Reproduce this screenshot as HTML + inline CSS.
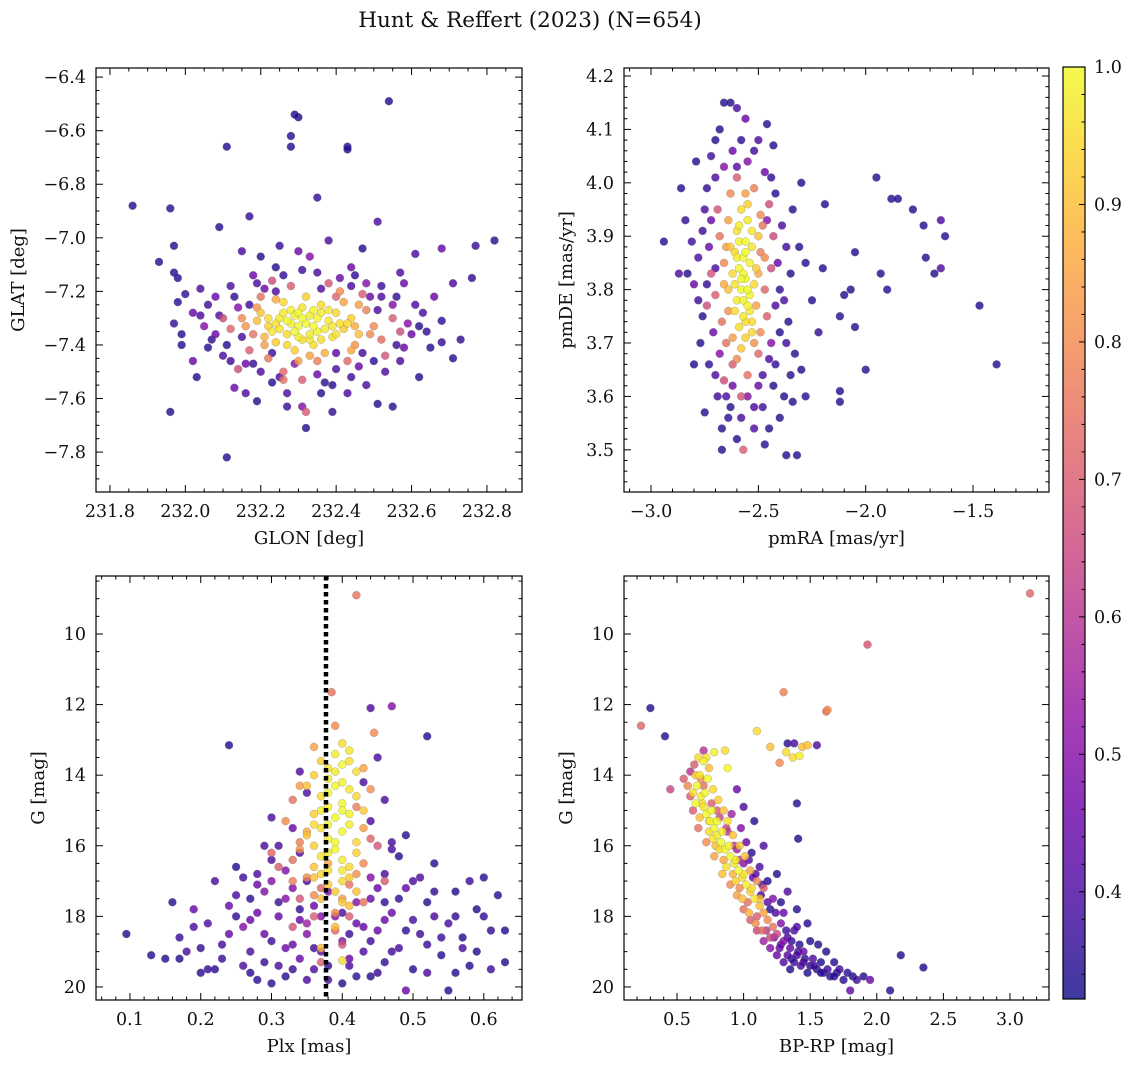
<!DOCTYPE html>
<html><head><meta charset="utf-8">
<style>
html,body{margin:0;padding:0;background:#fff;}
svg text{font-family:"DejaVu Serif","Liberation Serif",serif;fill:#111;}
</style></head>
<body>
<svg id="fig" width="1136" height="1067" viewBox="0 0 1136 1067" xmlns="http://www.w3.org/2000/svg">
<text x="530" y="27" font-size="21.5" text-anchor="middle">Hunt &amp; Reffert (2023) (N=654)</text>
</svg>
<script>
// ---------- data (estimated from reference) ----------
const p1 = [ // GLON, GLAT, prob
[232.54,-6.49,.35],[232.29,-6.54,.35],[232.30,-6.55,.34],[232.28,-6.62,.35],[232.28,-6.66,.35],[232.43,-6.66,.34],[232.43,-6.67,.35],[232.11,-6.66,.35],[231.86,-6.88,.35],[231.96,-6.89,.35],[232.35,-6.85,.37],[232.17,-6.92,.37],[232.51,-6.94,.4],[232.09,-6.96,.35],[231.97,-7.03,.35],[232.82,-7.01,.35],[232.77,-7.03,.37],[232.68,-7.04,.45],[232.47,-7.04,.35],[232.61,-7.06,.4],[231.93,-7.09,.35],[231.97,-7.13,.35],[231.98,-7.15,.35],[232.58,-7.17,.45],[232.71,-7.17,.4],[232.76,-7.15,.37],[232.15,-7.05,.4],[232.20,-7.07,.35],[232.25,-7.03,.37],[232.30,-7.05,.45],[232.38,-7.01,.4],[232.33,-7.07,.5],[232.44,-7.11,.45],[232.57,-7.13,.4],[232.04,-7.19,.4],[232.08,-7.22,.45],[231.98,-7.24,.35],[232.02,-7.28,.45],[232.04,-7.29,.4],[231.97,-7.32,.37],[231.99,-7.36,.35],[232.05,-7.33,.5],[231.99,-7.40,.35],[232.02,-7.46,.45],[232.10,-7.44,.4],[232.11,-7.40,.35],[232.03,-7.52,.35],[231.96,-7.65,.35],[232.11,-7.82,.35],[232.13,-7.56,.45],[232.16,-7.58,.4],[232.23,-7.54,.35],[232.19,-7.61,.35],[232.27,-7.63,.37],[232.32,-7.71,.35],[232.31,-7.63,.5],[232.36,-7.58,.35],[232.43,-7.58,.4],[232.51,-7.62,.35],[232.55,-7.63,.35],[232.48,-7.55,.4],[232.62,-7.52,.35],[232.71,-7.45,.35],[232.68,-7.39,.37],[232.65,-7.41,.35],[232.57,-7.46,.4],[232.60,-7.36,.45],[232.63,-7.28,.4],[232.59,-7.32,.5],[232.66,-7.22,.45],[232.55,-7.25,.5],[232.52,-7.22,.4],[232.49,-7.22,.45],
[232.12,-7.18,.4],[232.18,-7.14,.45],[232.24,-7.11,.35],[232.35,-7.13,.4],[232.41,-7.15,.45],[232.48,-7.17,.5],[232.08,-7.36,.45],[232.14,-7.26,.5],[232.06,-7.41,.35],[232.16,-7.47,.45],[232.20,-7.50,.4],[232.29,-7.47,.5],[232.35,-7.51,.45],[232.40,-7.49,.4],[232.46,-7.48,.45],[232.53,-7.50,.4],[232.58,-7.41,.45],[232.62,-7.33,.35],[232.27,-7.58,.4],[232.39,-7.55,.35],[232.44,-7.18,.4],[232.21,-7.19,.45],[232.09,-7.29,.4],
[232.06,-7.25,.38],[232.13,-7.22,.36],[232.19,-7.17,.4],[232.26,-7.14,.36],[232.31,-7.12,.38],[232.45,-7.14,.36],[232.52,-7.18,.38],[232.56,-7.22,.36],[232.61,-7.25,.4],[232.64,-7.35,.36],[232.56,-7.40,.38],[232.50,-7.46,.36],[232.44,-7.52,.38],[232.37,-7.54,.36],[232.25,-7.52,.4],[232.18,-7.47,.36],[232.12,-7.46,.38],[232.07,-7.38,.36],[232.15,-7.37,.4],[232.23,-7.43,.38],[232.47,-7.43,.38],[232.51,-7.27,.4],[232.17,-7.25,.38],[232.36,-7.19,.4],[232.40,-7.43,.42],[232.24,-7.20,.4],[232.00,-7.21,.36],[232.68,-7.31,.36],[232.73,-7.38,.36],[232.39,-7.65,.36],
[232.15,-7.30,.8],[232.18,-7.36,.75],[232.48,-7.27,.78],[232.50,-7.33,.8],[232.45,-7.40,.82],[232.22,-7.45,.76],[232.40,-7.22,.72],[232.28,-7.18,.7],[232.12,-7.34,.72],[232.55,-7.30,.7],[232.35,-7.46,.78],[232.20,-7.22,.75],[232.47,-7.21,.7],[232.52,-7.38,.74],[232.17,-7.42,.7],[232.43,-7.46,.73],[232.26,-7.50,.72],[232.38,-7.17,.68],[232.10,-7.30,.65],[232.57,-7.35,.66],[232.31,-7.53,.7],[232.14,-7.49,.66],[232.53,-7.44,.68],[232.23,-7.16,.66],[232.33,-7.44,.85],[232.42,-7.24,.85],[232.21,-7.40,.84],[232.45,-7.33,.87],[232.32,-7.65,.7],[232.26,-7.53,.75],
[232.19,-7.26,.82],[232.24,-7.23,.86],[232.46,-7.25,.84],[232.49,-7.36,.8],[232.44,-7.42,.86],[232.30,-7.46,.84],[232.21,-7.37,.88],[232.16,-7.33,.82],[232.37,-7.43,.88],[232.41,-7.20,.8],
[232.25,-7.30,.97],[232.28,-7.27,.99],[232.30,-7.33,1],[232.33,-7.29,.98],[232.35,-7.35,.99],[232.38,-7.31,.97],[232.31,-7.38,.96],[232.27,-7.36,.95],[232.22,-7.33,.93],[232.36,-7.25,.95],[232.40,-7.28,.94],[232.42,-7.34,.92],[232.34,-7.40,.95],[232.29,-7.42,.93],[232.24,-7.39,.92],[232.20,-7.28,.91],[232.26,-7.24,.94],[232.32,-7.22,.93],[232.39,-7.37,.96],[232.44,-7.30,.93],[232.23,-7.35,.97],[232.30,-7.28,1],[232.32,-7.32,1],[232.35,-7.30,.99],[232.28,-7.32,.99],[232.37,-7.34,.98],[232.33,-7.36,.98],[232.26,-7.28,.97],[232.31,-7.26,.96],[232.29,-7.35,1],[232.36,-7.38,.95],[232.41,-7.32,.95],[232.19,-7.31,.9],[232.46,-7.36,.9],[232.34,-7.27,.99],[232.27,-7.40,.94],[232.38,-7.27,.97],[232.24,-7.32,.96],[232.40,-7.36,.96],[232.30,-7.37,.98],
[232.27,-7.31,1],[232.34,-7.33,1],[232.31,-7.30,1],[232.29,-7.29,.99],[232.36,-7.28,.98],[232.25,-7.34,.96],[232.39,-7.33,.97],[232.33,-7.38,.97],[232.22,-7.30,.95],[232.43,-7.32,.94]
];
const p2 = [ // pmRA, pmDE, prob
[-1.95,4.01,.35],[-1.88,3.97,.35],[-1.85,3.97,.35],[-1.78,3.95,.35],[-1.73,3.92,.35],[-1.65,3.93,.4],[-1.63,3.90,.35],[-1.65,3.84,.4],[-1.68,3.83,.35],[-1.72,3.86,.35],[-1.47,3.77,.35],[-1.39,3.66,.35],[-1.93,3.83,.35],[-1.90,3.80,.35],[-2.05,3.87,.35],[-2.07,3.80,.35],[-2.10,3.79,.35],[-2.12,3.75,.35],[-2.05,3.73,.35],[-2.00,3.65,.35],[-2.12,3.61,.35],[-2.12,3.59,.35],[-2.20,3.84,.35],[-2.25,3.78,.35],[-2.22,3.72,.37],[-2.19,3.96,.35],[-2.28,3.60,.35],
[-2.66,4.15,.35],[-2.63,4.15,.35],[-2.60,4.14,.4],[-2.56,4.12,.45],[-2.46,4.11,.35],[-2.68,4.10,.35],[-2.70,4.08,.35],[-2.50,4.08,.4],[-2.43,4.07,.35],[-2.79,4.04,.35],[-2.86,3.99,.35],[-2.94,3.89,.35],[-2.83,3.83,.35],[-2.87,3.83,.4],[-2.80,3.81,.45],[-2.77,3.70,.35],[-2.80,3.66,.35],[-2.75,3.57,.35],[-2.67,3.54,.35],[-2.67,3.50,.35],[-2.57,3.50,.7],[-2.47,3.51,.35],[-2.45,3.54,.35],[-2.40,3.56,.35],[-2.37,3.49,.35],[-2.32,3.49,.35],[-2.34,3.59,.35],[-2.38,3.60,.35],[-2.30,3.65,.35],[-2.52,3.58,.4],[-2.62,3.62,.45],[-2.55,3.60,.5],
[-2.75,3.95,.4],[-2.73,3.88,.45],[-2.78,3.86,.4],[-2.71,3.72,.45],[-2.76,3.75,.35],[-2.70,3.64,.4],[-2.63,3.58,.35],[-2.58,3.56,.4],[-2.50,3.62,.45],[-2.45,3.67,.4],[-2.40,3.72,.35],[-2.38,3.78,.4],[-2.41,3.85,.45],[-2.39,3.92,.4],[-2.42,3.98,.35],[-2.47,4.02,.45],[-2.55,4.04,.5],[-2.62,4.06,.45],[-2.70,4.01,.4],[-2.66,4.03,.5],[-2.35,3.83,.35],[-2.36,3.74,.35],[-2.33,3.68,.35],[-2.60,3.52,.35],[-2.52,3.54,.4],[-2.43,3.62,.35],[-2.31,3.88,.35],[-2.28,3.85,.35],[-2.34,3.95,.35],[-2.30,4.00,.35],[-2.72,3.93,.45],[-2.68,3.68,.5],[-2.44,3.70,.5],[-2.46,3.93,.5],
[-2.84,3.93,.36],[-2.76,3.91,.38],[-2.74,3.81,.36],[-2.78,3.78,.38],[-2.73,3.66,.36],[-2.69,3.60,.38],[-2.64,3.56,.36],[-2.48,3.58,.38],[-2.42,3.66,.36],[-2.37,3.70,.38],[-2.40,3.80,.36],[-2.37,3.88,.38],[-2.44,4.01,.36],[-2.52,4.06,.38],[-2.58,4.08,.36],[-2.72,4.05,.38],[-2.74,3.99,.36],[-2.81,3.89,.38],[-2.35,3.64,.36],[-2.48,3.64,.4],[-2.70,3.84,.4],[-2.42,3.77,.4],[-2.65,3.60,.4],[-2.60,4.03,.42],
[-2.68,3.90,.75],[-2.66,3.85,.8],[-2.70,3.79,.7],[-2.67,3.74,.75],[-2.49,3.87,.78],[-2.47,3.80,.72],[-2.46,3.75,.7],[-2.48,3.92,.75],[-2.63,3.98,.8],[-2.52,3.99,.78],[-2.72,3.83,.68],[-2.65,3.70,.75],[-2.50,3.68,.72],[-2.62,3.66,.7],[-2.55,3.64,.75],[-2.44,3.84,.66],[-2.69,3.95,.68],[-2.45,3.96,.66],[-2.60,4.01,.7],[-2.58,3.60,.68],[-2.66,3.63,.66],[-2.49,3.72,.8],[-2.74,3.77,.66],[-2.43,3.90,.65],[-2.64,3.93,.85],[-2.51,3.77,.85],
[-2.65,3.88,.84],[-2.64,3.76,.82],[-2.50,3.83,.86],[-2.49,3.94,.8],[-2.62,3.71,.84],[-2.52,3.70,.82],[-2.66,3.81,.86],[-2.47,3.86,.8],[-2.56,3.98,.84],[-2.60,3.67,.8],
[-2.58,3.95,.95],[-2.55,3.93,.97],[-2.60,3.91,.96],[-2.56,3.89,1],[-2.53,3.88,.97],[-2.61,3.87,.95],[-2.57,3.86,1],[-2.54,3.85,.99],[-2.59,3.84,1],[-2.62,3.83,.95],[-2.56,3.82,1],[-2.52,3.81,.95],[-2.58,3.80,1],[-2.60,3.78,.98],[-2.55,3.77,.99],[-2.57,3.75,.97],[-2.53,3.74,.95],[-2.59,3.73,.96],[-2.56,3.71,.93],[-2.58,3.69,.92],[-2.63,3.88,.92],[-2.51,3.84,.92],[-2.54,3.79,1],[-2.61,3.76,.95],[-2.50,3.90,.9],[-2.64,3.80,.9],[-2.55,3.96,.93],[-2.59,3.92,.98],[-2.57,3.83,1],[-2.53,3.72,.94],
[-2.56,3.87,1],[-2.58,3.82,1],[-2.55,3.80,1],[-2.60,3.86,.98],[-2.53,3.91,.97],[-2.57,3.78,.99],[-2.61,3.81,.96],[-2.54,3.76,.97],[-2.59,3.89,.99],[-2.56,3.74,.95]
];
const p3 = [ // Plx, G, prob
[0.095,18.5,.35],[0.13,19.1,.35],[0.16,17.6,.35],[0.17,18.6,.37],[0.17,19.2,.35],[0.19,18.3,.4],[0.20,19.6,.35],[0.21,19.5,.37],[0.19,17.8,.45],[0.22,19.5,.35],[0.23,18.8,.4],[0.24,17.7,.45],[0.25,16.6,.35],[0.25,17.4,.4],[0.26,18.3,.5],[0.27,19.0,.4],[0.27,19.6,.35],[0.28,17.9,.45],[0.29,19.3,.37],[0.29,18.5,.45],[0.30,16.4,.4],[0.30,17.0,.5],[0.31,19.4,.4],[0.31,18.0,.45],[0.32,17.5,.5],[0.32,19.7,.35],[0.33,18.8,.45],[0.34,16.2,.4],[0.34,19.2,.45],[0.35,18.5,.5],[0.36,19.5,.4],[0.37,18.0,.5],[0.37,19.0,.45],[0.38,19.8,.4],[0.40,18.7,.5],[0.41,19.4,.4],[0.42,18.2,.45],[0.43,19.0,.4],[0.44,17.5,.45],[0.44,19.7,.35],[0.45,18.4,.45],[0.46,16.8,.4],[0.46,19.3,.37],[0.47,17.9,.45],[0.48,18.9,.4],[0.48,16.3,.35],[0.49,15.7,.35],[0.49,17.2,.45],[0.50,18.1,.4],[0.50,19.5,.35],[0.51,16.9,.4],[0.52,17.6,.35],[0.52,18.8,.37],[0.53,16.5,.35],[0.54,19.1,.35],[0.55,18.2,.4],[0.55,20.1,.35],[0.56,17.3,.35],[0.57,18.6,.35],[0.58,19.4,.35],[0.59,17.8,.35],[0.60,16.9,.35],[0.61,18.4,.37],[0.62,17.4,.35],[0.63,18.4,.35],[0.63,19.3,.35],[0.59,19.0,.35],[0.57,18.9,.4],[0.49,20.1,.45],[0.45,19.6,.37],[0.40,19.9,.35],[0.35,19.8,.4],[0.26,19.4,.4],[0.28,17.1,.45],[0.33,17.2,.5],[0.36,17.7,.45],[0.42,17.6,.5],[0.45,17.2,.45],[0.47,16.1,.4],[0.28,16.8,.4],[0.31,16.0,.4],[0.22,17.0,.4],[0.21,18.2,.4],[0.18,19.0,.4],[0.24,18.5,.45],[0.34,18.1,.45],[0.38,17.3,.5],[0.43,18.3,.45],[0.50,17.0,.4],[0.53,18.0,.4],[0.56,19.6,.35],[0.15,19.2,.35],[0.27,18.1,.45],[0.32,18.9,.45],[0.41,19.2,.45],[0.46,18.1,.45],[0.52,19.6,.4],[0.29,16.0,.4],[0.33,15.5,.45],[0.35,14.5,.4],[0.30,15.2,.4],[0.44,15.3,.4],[0.46,14.7,.4],[0.43,14.2,.4],[0.34,13.9,.4],[0.45,13.5,.4],[0.47,15.9,.4],[0.24,13.15,.35],[0.44,12.1,.4],[0.47,12.05,.5],[0.52,12.9,.35],
[0.20,18.9,.36],[0.23,19.2,.38],[0.25,18.0,.36],[0.26,16.9,.38],[0.28,19.8,.36],[0.30,18.7,.38],[0.30,19.9,.36],[0.33,19.5,.38],[0.34,17.8,.36],[0.36,18.9,.38],[0.38,19.4,.36],[0.41,18.5,.38],[0.42,19.7,.36],[0.44,18.7,.38],[0.46,17.6,.36],[0.47,19.0,.38],[0.49,18.4,.36],[0.51,18.5,.38],[0.53,17.3,.36],[0.54,18.6,.38],[0.56,18.0,.36],[0.58,17.0,.38],[0.60,18.0,.36],[0.61,19.5,.38],[0.48,17.5,.36],[0.40,17.9,.4],[0.35,17.0,.4],[0.31,17.6,.38],[0.27,17.5,.36],[0.39,18.0,.5],[0.35,18.2,.55],[0.44,16.9,.5],[0.32,16.7,.5],[0.29,17.3,.5],
[0.33,14.7,.75],[0.32,15.3,.8],[0.34,15.9,.78],[0.33,16.4,.75],[0.35,16.9,.8],[0.37,17.2,.72],[0.41,17.1,.75],[0.43,16.5,.8],[0.44,15.8,.72],[0.42,14.9,.78],[0.36,18.0,.7],[0.39,18.4,.72],[0.41,18.0,.7],[0.34,17.5,.68],[0.31,16.6,.7],[0.45,16.0,.68],[0.40,18.8,.68],[0.37,19.3,.7],[0.445,12.8,.8],[0.39,12.6,.8],[0.385,11.65,.75],[0.42,8.9,.75],[0.36,13.2,.85],[0.43,13.8,.85],[0.30,16.2,.72],[0.46,17.0,.7],[0.38,16.5,.85],[0.33,18.3,.68],[0.43,17.6,.75],
[0.34,16.1,.82],[0.35,15.6,.86],[0.43,15.5,.84],[0.42,16.8,.82],[0.36,17.4,.8],[0.40,17.5,.84],[0.34,14.3,.84],[0.44,14.4,.82],[0.39,17.9,.8],[0.33,17.0,.78],
[0.40,13.1,.95],[0.41,13.3,.97],[0.37,13.6,.93],[0.40,13.7,1],[0.42,13.9,.95],[0.38,14.1,.98],[0.39,14.3,1],[0.41,14.4,.97],[0.37,14.6,.95],[0.40,14.8,1],[0.38,14.9,.99],[0.36,15.1,.93],[0.39,15.2,1],[0.41,15.4,.98],[0.37,15.5,.96],[0.40,15.6,1],[0.38,15.8,.99],[0.42,15.9,.94],[0.36,16.0,.93],[0.39,16.1,1],[0.37,16.3,.97],[0.40,16.4,.98],[0.41,16.6,.95],[0.38,16.7,.96],[0.36,16.9,.9],[0.40,17.0,.94],[0.39,17.3,.92],[0.37,17.5,.9],[0.41,17.7,.9],[0.38,13.8,.97],[0.43,15.0,.92],[0.35,15.7,.9],[0.42,16.2,.93],[0.35,14.3,.9],[0.39,13.4,.98],[0.42,14.6,.94],[0.36,16.6,.91],[0.40,15.0,1],[0.38,15.4,1],[0.41,16.9,.92],[0.40,19.25,.95],[0.39,18.3,.9],[0.37,18.9,.9],
[0.38,14.5,1],[0.40,14.2,.99],[0.37,15.0,.98],[0.39,15.9,1],[0.41,15.1,.99],[0.36,15.4,.95],[0.38,16.2,.98],[0.40,16.7,.97],[0.37,16.8,.94],[0.42,17.3,.9],[0.39,13.9,.98],[0.41,13.6,.96],[0.36,14.0,.93],[0.38,17.1,.93],[0.40,17.6,.92]
];
const p4 = [ // BP-RP, G, prob
[3.15,8.85,.72],[1.93,10.3,.68],[1.30,11.65,.78],[1.62,12.2,.75],[1.63,12.15,.8],[1.55,13.15,.4],[0.23,12.6,.72],[0.30,12.1,.35],[0.41,12.9,.35],[0.45,14.4,.65],[1.10,12.75,.95],[1.20,13.2,.9],[1.27,13.65,.8],[1.32,13.35,.95],[1.37,13.5,.95],[1.42,13.45,.98],[1.44,13.2,.9],[1.48,13.15,.9],[1.38,13.1,.4],[1.33,13.1,.35],[1.40,14.8,.35],[1.41,15.8,.34],[2.10,20.1,.35],[2.18,19.1,.34],[2.35,19.45,.34],[1.80,20.1,.45],[0.88,13.8,1],[0.78,13.35,.98],[0.86,13.3,.95],[0.72,13.5,.97],[0.70,13.3,.6],
[0.60,13.9,.6],[0.55,14.1,.7],[0.58,14.3,.8],[0.62,14.5,.95],[0.65,14.3,1],[0.68,14.6,.98],[0.64,14.8,1],[0.70,14.9,.97],[0.72,15.1,1],[0.67,15.2,.9],[0.75,15.3,.99],[0.78,15.5,1],[0.74,15.6,.95],[0.80,15.7,.98],[0.83,15.9,1],[0.79,16.0,.9],[0.86,16.1,.99],[0.90,16.3,1],[0.85,16.4,.85],[0.93,16.5,.97],[0.96,16.7,1],[0.92,16.8,.88],[0.99,16.9,.95],[1.02,17.1,.98],[0.97,17.2,.8],[1.05,17.3,.93],[1.08,17.5,.97],[1.03,17.6,.75],[1.12,17.7,.9],[1.15,17.9,.85],[1.10,18.0,.7],[1.18,18.1,.8],[1.22,18.3,.75],[1.17,18.4,.6],[1.25,18.5,.65],[1.30,18.7,.5],[1.27,18.9,.45],[1.35,18.9,.45],[1.40,19.1,.4],[1.36,19.2,.35],[1.45,19.3,.4],[1.50,19.4,.35],[1.48,19.6,.34],[1.55,19.5,.35],[1.60,19.6,.34],[1.65,19.7,.35],[1.70,19.6,.34],[1.75,19.8,.35],[1.82,19.7,.34],[1.90,19.7,.35],[1.95,19.8,.45],[1.52,19.2,.4],[1.42,18.8,.35],[1.33,18.6,.4],[1.38,18.4,.4],[1.28,18.2,.5],[1.20,17.8,.35],[1.13,17.4,.4],[1.07,16.9,.45],[1.00,16.5,.5],[0.95,16.1,.55],[0.88,15.6,.6],[0.82,15.2,.65],[0.76,14.8,.7],[0.70,14.3,.75],[0.63,13.7,.7],[0.66,13.5,.95],[0.70,13.6,.98],[0.74,13.8,.9],[0.73,14.1,1],[0.77,14.4,.95],[0.81,14.7,.93],[0.85,15.0,.9],[0.88,15.3,.95],[0.92,15.7,.9],[0.97,16.0,.92],[1.01,16.3,.9],[1.05,16.7,.85],[1.10,17.0,.8],[1.15,17.2,.7],[0.98,15.5,.5],[1.02,15.9,.45],[1.06,16.2,.35],[0.91,15.1,.55],[1.12,16.6,.4],[1.18,17.0,.35],[0.62,15.0,.7],[0.66,15.5,.75],[0.72,15.9,.8],[0.78,16.3,.85],[0.84,16.8,.9],[0.90,17.1,.8],[0.95,17.4,.85],[1.00,17.8,.75],[1.05,18.1,.7],[1.10,18.4,.65],[1.15,18.7,.55],[1.20,18.9,.5],[1.25,19.1,.45],[1.30,19.3,.4],[1.35,19.5,.35],[1.45,19.0,.45],[1.58,19.3,.34],[1.62,19.0,.34],[1.50,18.7,.35],[1.40,18.3,.4],[1.30,17.9,.45],[1.22,17.5,.5],[1.28,17.6,.35],[1.00,14.9,.4],[0.95,14.4,.45],[1.08,15.3,.35],[1.15,16.0,.4],[1.25,16.8,.35],[1.33,17.3,.4],[1.40,17.8,.35],[1.48,18.2,.35],[1.56,18.8,.34],[1.68,19.3,.35],
[1.32,18.4,.38],[1.36,18.7,.36],[1.41,19.0,.38],[1.46,19.2,.36],[1.53,19.4,.38],[1.58,19.6,.36],[1.63,19.5,.38],[1.68,19.7,.36],[1.72,19.5,.38],[1.78,19.6,.36],[1.85,19.8,.38],[1.43,19.4,.4],[1.38,19.3,.38],[1.33,19.1,.42],[1.28,18.8,.45],[1.23,18.6,.5],[1.24,17.9,.4],[1.18,17.6,.42],[1.14,17.1,.38],[1.09,16.8,.4],[1.04,16.4,.42],[0.97,16.4,.6],[0.93,16.0,.62],[0.87,15.5,.64],[0.80,15.0,.7],[0.68,14.1,.8],[0.60,14.6,.7],[0.64,14.0,.9],[0.69,14.8,.95],[0.74,15.3,.96],[0.77,15.8,.97],[0.82,16.1,.95],[0.87,16.6,.96],[0.94,17.0,.93],[0.99,17.5,.9],[1.04,17.9,.88],[1.09,18.2,.8],[1.14,18.4,.75],[1.20,18.6,.65],[0.89,16.0,.99],[0.84,15.6,.98],[0.80,15.3,1],[0.76,15.0,1],[0.71,14.5,.99],[0.67,14.0,.97],[0.94,16.4,.98],[1.00,16.8,.96],[1.06,17.2,.95],[1.12,17.5,.9]
];
const cbTicks = [0.4,0.5,0.6,0.7,0.8,0.9,1.0];
const cbRange = [0.322,1.0];

// ---------- rendering ----------
const NS="http://www.w3.org/2000/svg";
const svg=document.getElementById('fig');
const TICK_FS=17.5, LABEL_FS=18;
function mk(tag,attrs,parent){const e=document.createElementNS(NS,tag);for(const k in attrs)e.setAttribute(k,attrs[k]);(parent||svg).appendChild(e);return e;}
const stops=[[13,8,135],[65,4,157],[106,0,168],[143,13,164],[177,42,144],[204,71,120],[225,100,98],[242,132,75],[252,166,54],[252,206,37],[240,249,33]];
function plasma(t){t=Math.max(0,Math.min(1,t));const f=t*10,i=Math.min(9,Math.floor(f)),r=f-i;const a=stops[i],b=stops[i+1];return `rgb(${Math.round(a[0]+(b[0]-a[0])*r)},${Math.round(a[1]+(b[1]-a[1])*r)},${Math.round(a[2]+(b[2]-a[2])*r)})`;}
function cnorm(c){return (c-cbRange[0])/(cbRange[1]-cbRange[0]);}
function fmt(v,d){const s=Math.abs(v).toFixed(d);return (v<-1e-9?'\u2212':'')+s;}

function panel(name,o,data){
  const g=mk('g',{});
  
  
  const sx=v=>o.x0+(v-o.xd[0])/(o.xd[1]-o.xd[0])*(o.x1-o.x0);
  const sy=v=>o.y0+(v-o.yd[0])/(o.yd[1]-o.yd[0])*(o.y1-o.y0);
  const pg=mk('g',{},g);
  
  
  const sorted=data.slice().sort((a,b)=>a[2]-b[2]);
  sorted.forEach(d=>{
    const c=mk('circle',{cx:sx(d[0]).toFixed(1),cy:sy(d[1]).toFixed(1),r:4,fill:plasma(cnorm(d[2])),'fill-opacity':0.8,stroke:'#777','stroke-width':0.4,'stroke-opacity':0.7},pg);
    
    
  });
  if(o.vline!==undefined){
    const l=mk('line',{x1:sx(o.vline),x2:sx(o.vline),y1:o.y0,y2:o.y1,stroke:'#000','stroke-width':4.5,'stroke-dasharray':'4.5 3.5'},g);
    
    
  }
  const fr=mk('rect',{x:o.x0,y:o.y0,width:o.x1-o.x0,height:o.y1-o.y0,fill:'none',stroke:'#000','stroke-width':1.2},g);
  
  
  const tk=mk('g',{stroke:'#000','stroke-width':1},g);
  const xlo=Math.min(...o.xd),xhi=Math.max(...o.xd),ylo=Math.min(...o.yd),yhi=Math.max(...o.yd);
  for(let v=Math.ceil(xlo/o.xm)*o.xm;v<=xhi;v+=o.xm){const x=sx(v);const isMaj=Math.abs(v/o.xs-Math.round(v/o.xs))<1e-6;const L=isMaj?7:3.5;
    mk('line',{x1:x,x2:x,y1:o.y1,y2:o.y1-L},tk);mk('line',{x1:x,x2:x,y1:o.y0,y2:o.y0+L},tk);}
  for(let v=Math.ceil(ylo/o.ym)*o.ym;v<=yhi;v+=o.ym){const y=sy(v);const isMaj=Math.abs(v/o.ys-Math.round(v/o.ys))<1e-6;const L=isMaj?7:3.5;
    mk('line',{x1:o.x0,x2:o.x0+L,y1:y,y2:y},tk);mk('line',{x1:o.x1,x2:o.x1-L,y1:y,y2:y},tk);}
  o.xt.forEach(v=>{const t=mk('text',{x:sx(v),y:o.y1+25,'font-size':TICK_FS,'text-anchor':'middle'},g);t.textContent=fmt(v,o.xdec);
    });
  o.yt.forEach(v=>{const t=mk('text',{x:o.x0-10,y:sy(v)+6,'font-size':TICK_FS,'text-anchor':'end'},g);t.textContent=fmt(v,o.ydec);
    });
  const xl=mk('text',{x:(o.x0+o.x1)/2,y:o.y1+52,'font-size':LABEL_FS,'text-anchor':'middle'},g);xl.textContent=o.xlabel;
  
  const yx=o.ylx,yy=(o.y0+o.y1)/2;
  const yl=mk('text',{x:yx,y:yy,'font-size':LABEL_FS,'text-anchor':'middle',transform:`rotate(-90 ${yx} ${yy})`},g);yl.textContent=o.ylabel;
  
}

panel('glon-glat-panel',{x0:96,x1:522,y0:68,y1:492,xd:[231.763,232.893],yd:[-6.366,-7.949],
  xs:0.2,xm:0.05,ys:0.2,ym:0.05,xt:[231.8,232.0,232.2,232.4,232.6,232.8],yt:[-6.4,-6.6,-6.8,-7.0,-7.2,-7.4,-7.6,-7.8],
  xdec:1,ydec:1,xlabel:'GLON [deg]',ylabel:'GLAT [deg]',ylx:24},p1);
panel('proper-motion-panel',{x0:624,x1:1049,y0:68,y1:492,xd:[-3.126,-1.146],yd:[4.215,3.421],
  xs:0.5,xm:0.1,ys:0.1,ym:0.02,xt:[-3.0,-2.5,-2.0,-1.5],yt:[3.5,3.6,3.7,3.8,3.9,4.0,4.1,4.2],
  xdec:1,ydec:1,xlabel:'pmRA [mas/yr]',ylabel:'pmDE [mas/yr]',ylx:572},p2);
panel('parallax-panel',{x0:96,x1:522,y0:576,y1:1000,xd:[0.052,0.654],yd:[8.357,20.37],
  xs:0.1,xm:0.02,ys:2,ym:0.5,xt:[0.1,0.2,0.3,0.4,0.5,0.6],yt:[10,12,14,16,18,20],
  xdec:1,ydec:0,xlabel:'Plx [mas]',ylabel:'G [mag]',ylx:44,vline:0.377},p3);
panel('cmd-panel',{x0:624,x1:1049,y0:576,y1:1000,xd:[0.102,3.293],yd:[8.357,20.37],
  xs:0.5,xm:0.1,ys:2,ym:0.5,xt:[0.5,1.0,1.5,2.0,2.5,3.0],yt:[10,12,14,16,18,20],
  xdec:1,ydec:0,xlabel:'BP-RP [mag]',ylabel:'G [mag]',ylx:572},p4);

// colorbar
const cb=mk('g',{});


const defs=mk('defs',{},cb);
const lg=mk('linearGradient',{id:'cbg',x1:0,y1:1,x2:0,y2:0},defs);
stops.forEach((s,i)=>mk('stop',{offset:i/10,'stop-color':`rgb(${s[0]},${s[1]},${s[2]})`},lg));
const CB={x0:1063,x1:1085,y0:67,y1:999};
mk('rect',{x:CB.x0,y:CB.y0,width:CB.x1-CB.x0,height:CB.y1-CB.y0,fill:'url(#cbg)','fill-opacity':0.8},cb);
mk('rect',{x:CB.x0,y:CB.y0,width:CB.x1-CB.x0,height:CB.y1-CB.y0,fill:'none',stroke:'#000','stroke-width':1.2},cb);
const cy=v=>CB.y1-(v-cbRange[0])/(cbRange[1]-cbRange[0])*(CB.y1-CB.y0);
for(let v=0.34;v<=1.0001;v+=0.02){const y=cy(v);const maj=Math.abs(v*10-Math.round(v*10))<1e-6;const L=maj?6:3.5;
  mk('line',{x1:CB.x1,x2:CB.x1-L,y1:y,y2:y,stroke:'#000'},cb);}
cbTicks.forEach(v=>{const t=mk('text',{x:CB.x1+9,y:cy(v)+6,'font-size':TICK_FS},cb);t.textContent=v.toFixed(1);
  });
</script>
</body></html>
